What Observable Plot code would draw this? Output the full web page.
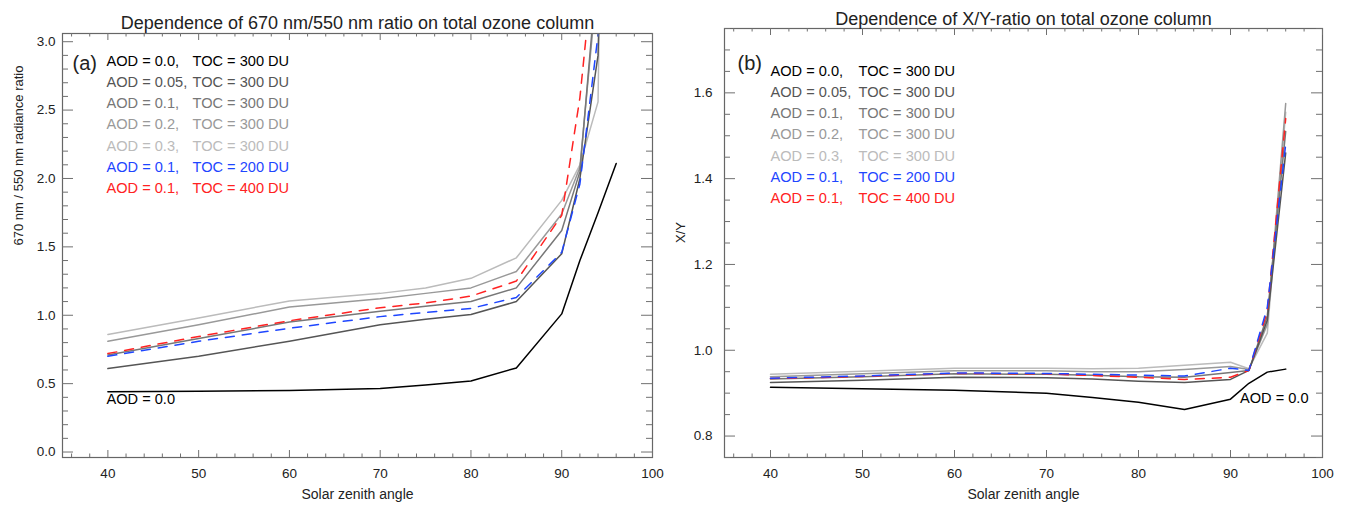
<!DOCTYPE html>
<html>
<head>
<meta charset="utf-8">
<script src="https://cdn.jsdelivr.net/npm/d3@7"></script>
<script src="https://cdn.jsdelivr.net/npm/@observablehq/plot@0.6"></script>
<style>
  html, body { margin: 0; padding: 0; background: #fff; }
  #wrap { display: flex; width: 1348px; height: 508px; }
  svg { font-family: "Liberation Sans", Arial, Helvetica, sans-serif; }
</style>
</head>
<body>
<div id="wrap"></div>
<script>
// ---------------- data ----------------
const sza = [40, 50, 60, 70, 75, 80, 85, 90, 92, 94, 96];

// Panel (a): 670 nm / 550 nm radiance ratio
const a_aod00   = [0.44, 0.445, 0.45, 0.465, 0.49, 0.52, 0.615, 1.01, 1.40, 1.75, 2.11];
const a_aod005  = [0.61, 0.70, 0.81, 0.93, 0.97, 1.005, 1.10, 1.45, 2.00, 2.90, 8.0];
const a_aod01   = [0.71, 0.83, 0.95, 1.03, 1.065, 1.10, 1.20, 1.62, 2.05, 3.60, 9.0];
const a_aod02   = [0.81, 0.93, 1.06, 1.12, 1.16, 1.20, 1.32, 1.74, 2.08, 3.50, 10.0];
const a_aod03   = [0.86, 0.98, 1.105, 1.16, 1.20, 1.27, 1.42, 1.84, 2.10, 2.56, 12.0];
const a_toc200  = [0.70, 0.81, 0.905, 0.99, 1.02, 1.05, 1.13, 1.46, 1.96, 3.05, 7.0];
const a_toc400  = [0.72, 0.845, 0.96, 1.055, 1.09, 1.14, 1.25, 1.73, 2.59, 3.90, 9.0];

// Panel (b): X/Y ratio
const b_aod00   = [0.914, 0.910, 0.907, 0.900, 0.890, 0.879, 0.862, 0.886, 0.923, 0.949, 0.956];
const b_aod005  = [0.925, 0.930, 0.937, 0.936, 0.933, 0.928, 0.925, 0.932, 0.953, 1.07, 1.46];
const b_aod01   = [0.933, 0.938, 0.945, 0.944, 0.942, 0.938, 0.937, 0.948, 0.953, 1.08, 1.51];
const b_aod02   = [0.938, 0.945, 0.952, 0.952, 0.950, 0.950, 0.955, 0.962, 0.955, 1.06, 1.575];
const b_aod03   = [0.944, 0.951, 0.958, 0.958, 0.957, 0.958, 0.965, 0.972, 0.957, 1.04, 1.555];
const b_toc200  = [0.935, 0.940, 0.947, 0.946, 0.944, 0.942, 0.940, 0.958, 0.953, 1.10, 1.48];
const b_toc400  = [0.934, 0.939, 0.946, 0.945, 0.941, 0.937, 0.932, 0.937, 0.953, 1.09, 1.54];

// legend texts
const legendAOD = ["AOD = 0.0,", "AOD = 0.05,", "AOD = 0.1,", "AOD = 0.2,", "AOD = 0.3,", "AOD = 0.1,", "AOD = 0.1,"];
const legendTOC = ["TOC = 300 DU", "TOC = 300 DU", "TOC = 300 DU", "TOC = 300 DU", "TOC = 300 DU", "TOC = 200 DU", "TOC = 400 DU"];

// ticks
const xMajor = [40, 50, 60, 70, 80, 90, 100];
const xMinor = [36, 38, 42, 44, 46, 48, 52, 54, 56, 58, 62, 64, 66, 68, 72, 74, 76, 78, 82, 84, 86, 88, 92, 94, 96, 98];
const aYMajor = [0.0, 0.5, 1.0, 1.5, 2.0, 2.5, 3.0];
const aYMinor = [0.1, 0.2, 0.3, 0.4, 0.6, 0.7, 0.8, 0.9, 1.1, 1.2, 1.3, 1.4, 1.6, 1.7, 1.8, 1.9, 2.1, 2.2, 2.3, 2.4, 2.6, 2.7, 2.8, 2.9];
const bYMajor = [0.8, 1.0, 1.2, 1.4, 1.6];
const bYMinor = [0.75, 0.85, 0.9, 0.95, 1.05, 1.1, 1.15, 1.25, 1.3, 1.35, 1.45, 1.5, 1.55, 1.65, 1.7, 1.75];

// ---------------- styles ----------------
const seriesColor = ["#000000", "#555555", "#777777", "#999999", "#bbbbbb", "#1e46ff", "#ff2222"];
const seriesDash  = [null, null, null, null, null, "9,8", "9,8"];
// drawing order: light to dark, then red, then blue
const drawOrder = [4, 3, 2, 1, 0, 6, 5];

function table(arrays) {
  return arrays.map((vals, k) => sza.map((x, i) => ({x, y: vals[i], k})));
}

function panel(cfg) {
  const fw = 674 - cfg.ml - cfg.mr;   // frame width
  const fh = 508 - cfg.mt - cfg.mb;   // frame height
  const series = table(cfg.series);
  const tickC = "#707070";
  const txt = "#222";
  const marks = [];

  // lines
  for (const k of drawOrder) {
    marks.push(Plot.line(series[k], {
      x: "x", y: "y", stroke: seriesColor[k], strokeWidth: 1.5,
      strokeDasharray: seriesDash[k], clip: true, curve: "linear"
    }));
  }

  // frame
  marks.push(Plot.frame({stroke: "#666", strokeWidth: 1.2}));

  // x ticks (bottom + top), inward
  marks.push(Plot.ruleX(xMinor, {x: d => d, stroke: tickC, insetTop: fh - 3.5}));
  marks.push(Plot.ruleX(xMajor, {x: d => d, stroke: tickC, insetTop: fh - 7}));
  marks.push(Plot.ruleX(xMinor, {x: d => d, stroke: tickC, insetBottom: fh - 3.5}));
  marks.push(Plot.ruleX(xMajor, {x: d => d, stroke: tickC, insetBottom: fh - 7}));
  // y ticks (left + right), inward
  marks.push(Plot.ruleY(cfg.yMinor, {y: d => d, stroke: tickC, insetRight: fw - 6}));
  marks.push(Plot.ruleY(cfg.yMajor, {y: d => d, stroke: tickC, insetRight: fw - 11}));
  marks.push(Plot.ruleY(cfg.yMinor, {y: d => d, stroke: tickC, insetLeft: fw - 6}));
  marks.push(Plot.ruleY(cfg.yMajor, {y: d => d, stroke: tickC, insetLeft: fw - 11}));

  // tick labels
  marks.push(Plot.text(xMajor, {x: d => d, frameAnchor: "bottom", dy: 20, text: d => d3.format("d")(d), fontSize: 13.5, fill: txt}));
  marks.push(Plot.text(cfg.yMajor, {y: d => d, frameAnchor: "left", dx: -cfg.ypad, textAnchor: "end", text: d => d3.format(".1f")(d), fontSize: 13.5, fill: txt}));

  // axis labels
  marks.push(Plot.text(["Solar zenith angle"], {frameAnchor: "bottom", dy: 41, fontSize: 14, fill: txt}));
  marks.push(Plot.text([cfg.ylabel], {frameAnchor: "left", dx: cfg.ylabelDx, rotate: -90, fontSize: 13, fill: txt}));

  // title
  marks.push(Plot.text([cfg.title], {frameAnchor: "top", dy: cfg.titleDy, fontSize: 18, fill: txt}));

  // panel letter
  marks.push(Plot.text([cfg.letter], {frameAnchor: "top-left", dx: cfg.letterDx, dy: cfg.letterDy, textAnchor: "start", fontSize: 20, fill: txt}));

  // legend
  for (let i = 0; i < legendAOD.length; i++) {
    marks.push(Plot.text([legendAOD[i]], {frameAnchor: "top-left", dx: cfg.legAodDx, dy: cfg.legDy0 + cfg.legStep * i, textAnchor: "start", fontSize: 14.6, fill: seriesColor[i]}));
    marks.push(Plot.text([legendTOC[i]], {frameAnchor: "top-left", dx: cfg.legTocDx, dy: cfg.legDy0 + cfg.legStep * i, textAnchor: "start", fontSize: 14.6, fill: seriesColor[i]}));
  }

  // annotation
  marks.push(Plot.text(["AOD = 0.0"], cfg.annot));

  return Plot.plot({
    width: 674, height: 508,
    marginLeft: cfg.ml, marginRight: cfg.mr, marginTop: cfg.mt, marginBottom: cfg.mb,
    x: {domain: [35, 100], axis: null},
    y: {domain: cfg.yDomain, axis: null},
    style: {background: "#fff", overflow: "visible"},
    marks
  });
}

const panelA = panel({
  ml: 62, mr: 22, mt: 33, mb: 51,
  yDomain: [-0.04, 3.06],
  yMajor: aYMajor, yMinor: aYMinor, ypad: 7,
  series: [a_aod00, a_aod005, a_aod01, a_aod02, a_aod03, a_toc200, a_toc400],
  title: "Dependence of 670 nm/550 nm ratio on total ozone column", titleDy: -17,
  ylabel: "670 nm / 550 nm radiance ratio", ylabelDx: -44,
  letter: "(a)", letterDx: 10, letterDy: 22,
  legAodDx: 44, legTocDx: 130, legDy0: 22, legStep: 21.2,
  annot: {frameAnchor: "bottom-left", dx: 44, dy: -54, textAnchor: "start", fontSize: 14.6, fill: "#000"}
});

const panelB = panel({
  ml: 50, mr: 26, mt: 28, mb: 51,
  yDomain: [0.75, 1.75],
  yMajor: bYMajor, yMinor: bYMinor, ypad: 12,
  series: [b_aod00, b_aod005, b_aod01, b_aod02, b_aod03, b_toc200, b_toc400],
  title: "Dependence of X/Y-ratio on total ozone column", titleDy: -16,
  ylabel: "X/Y", ylabelDx: -44,
  letter: "(b)", letterDx: 13, letterDy: 27,
  legAodDx: 46, legTocDx: 134, legDy0: 37, legStep: 21.2,
  annot: {frameAnchor: "bottom-right", dx: -14, dy: -55, textAnchor: "end", fontSize: 14.6, fill: "#000"}
});

document.getElementById("wrap").append(panelA, panelB);
</script>
</body>
</html>
